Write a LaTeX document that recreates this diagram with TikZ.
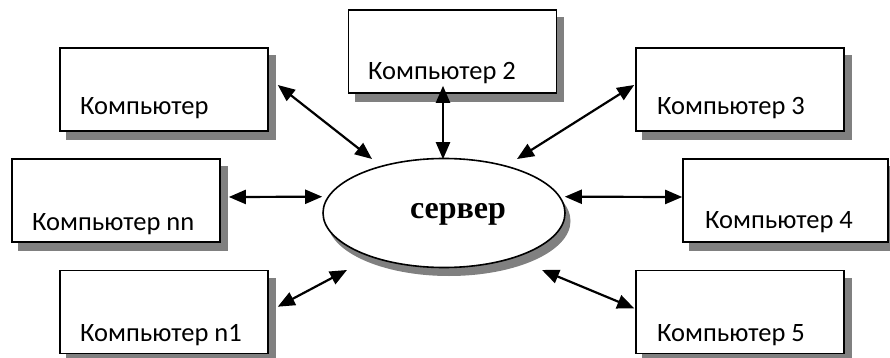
\documentclass[tikz,border=0pt]{standalone}
\usepackage{fontspec}
\setmainfont{Carlito}
\newfontfamily\srvfont{Liberation Serif}
\usetikzlibrary{shapes.geometric,arrows.meta,calc,backgrounds}
\definecolor{shadowgray}{RGB}{128,128,128}
\tikzset{
  compbox/.style={draw=black,line width=1.6pt,fill=white,minimum width=208pt,minimum height=83pt,inner sep=0pt},
  boxshadow/.style={fill=shadowgray},
  lbl/.style={anchor=base west,inner sep=0pt,font=\fontsize{26.5}{30}\selectfont},
  srvshape/.style={ellipse,draw=black,line width=1.6pt,fill=white,minimum width=242pt,minimum height=109pt,inner sep=0pt},
  link/.style={line width=2.2pt,{Triangle[length=17pt,width=14pt]}-{Triangle[length=17pt,width=14pt]}}
}
\begin{document}
\begin{tikzpicture}[x=1pt,y=-1pt]
\useasboundingbox (0,0) rectangle (890,358);
\node[compbox] (c1) at (164,89.5) {};
\node[compbox] (c2) at (452.5,51.5) {};
\node[compbox] (c3) at (740,89.5) {};
\node[compbox] (cnn) at (116,200.5) {};
\node[compbox] (cn1) at (164,312) {};
\node[compbox,minimum width=205pt] (c4) at (785.5,200.5) {};
\node[compbox] (c5) at (740,312) {};
\node[srvshape] (srv) at (444,213) {};
\begin{scope}[on background layer]
  \foreach \n in {c1,c2,c3,cnn,cn1,c4,c5}
    \fill[boxshadow] ($(\n.north west)+(7,8)$) rectangle ($(\n.south east)+(7,8)$);
  \fill[boxshadow] ($(srv.center)+(5,8)$) ellipse [x radius=121.5, y radius=55];
\end{scope}
\node[font=\srvfont\bfseries\fontsize{32}{36}\selectfont,inner sep=0pt,anchor=base] (srvt) at (458,218) {сервер};
\node[lbl] (t1) at (80,115) {Компьютер};
\node[lbl] (t2) at (368,80) {Компьютер 2};
\node[lbl] (t3) at (657,115) {Компьютер 3};
\node[lbl] (tnn) at (32,230) {Компьютер nn};
\node[lbl] (tn1) at (80,341) {Компьютер n1};
\node[lbl] (t4) at (705,228) {Компьютер 4};
\node[lbl] (t5) at (657,341) {Компьютер 5};
\draw[link] ($(c1.east)+(9,-4.5)$) -- ($(srv.center)+(-72,-54)$);
\draw[link] ($(c2.south)+(-9.5,-8)$) -- ($(srv.north)+(-1,1.5)$);
\draw[link] ($(c3.west)+(-1,-4.5)$) -- ($(srv.center)+(73,-54)$);
\draw[link] ($(cnn.east)+(8,-3.5)$) -- ($(srv.west)+(0,-16.3)$);
\draw[link] ($(cn1.east)+(9,-5.3)$) -- ($(srv.center)+(-97,57)$);
\draw[link] ($(srv.east)+(-1,-16.3)$) -- ($(c4.west)+(0,-3.5)$);
\draw[link] ($(srv.center)+(98,57)$) -- ($(c5.west)+(-1,-3.7)$);
\end{tikzpicture}
\end{document}
